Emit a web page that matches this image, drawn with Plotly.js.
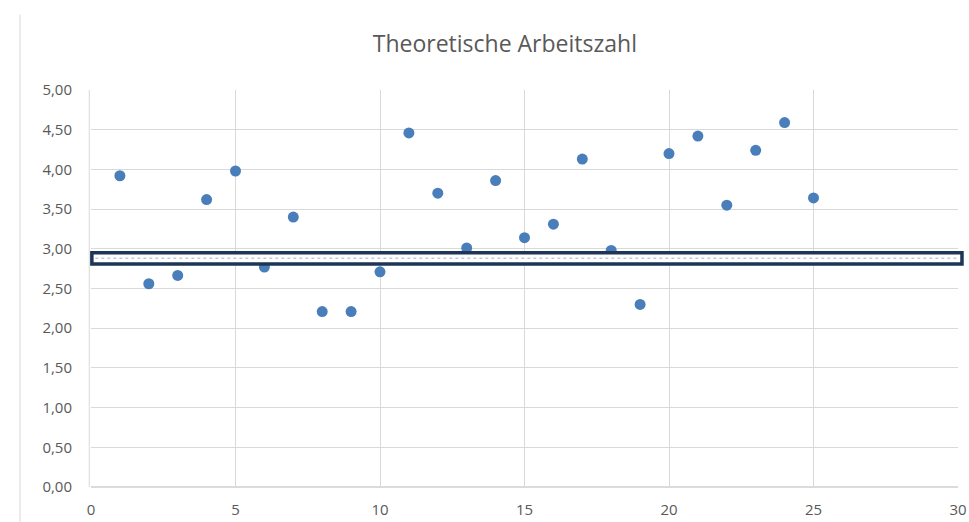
<!DOCTYPE html>
<html>
<head>
<meta charset="utf-8">
<script src="https://cdn.plot.ly/plotly-3.0.1.min.js"></script>
<style>html,body{margin:0;padding:0;background:#fff;}#chart{width:969px;height:522px;}</style>
</head>
<body>
<div id="chart"></div>
<script>
const xValues = [1,2,3,4,5,6,7,8,9,10,11,12,13,14,15,16,17,18,19,20,21,22,23,24,25];
const yValues = [3.92,2.56,2.665,3.62,3.98,2.77,3.40,2.21,2.21,2.71,4.46,3.70,3.01,3.86,3.14,3.31,4.13,2.98,2.30,4.20,4.42,3.55,4.24,4.59,3.64];
const bandLow = 2.81;
const bandHigh = 2.95;
const xTicks = [0,5,10,15,20,25,30];
const yTicks = [0,0.5,1,1.5,2,2.5,3,3.5,4,4.5,5];
const titleText = "Theoretische Arbeitszahl";

const trace = {
  x: xValues, y: yValues, type: 'scatter', mode: 'markers',
  marker: {color: '#4a7ebb', size: 11},
  hoverinfo: 'x+y', cliponaxis: false
};

const layout = {
  width: 969, height: 522,
  margin: {l: 91, r: 11, t: 90, b: 35},
  paper_bgcolor: '#fff', plot_bgcolor: '#fff',
  separators: ',.',
  showlegend: false,
  font: {family: 'Open Sans, sans-serif', color: '#595959'},
  title: {text: titleText, font: {size: 23, color: '#595959', family: 'Open Sans, sans-serif'}, x: 0.521, xanchor: 'center', y: 0.915, yanchor: 'middle'},
  xaxis: {range: [0, 30], tickvals: xTicks, ticktext: xTicks.map(String), showgrid: true, gridcolor: '#d9d9d9', gridwidth: 1,
          zeroline: false, showline: false, ticks: '', ticklabelstandoff: 12, tickfont: {size: 15, color: '#595959'}, fixedrange: true},
  yaxis: {range: [0, 5], tickvals: yTicks, tickformat: '.2f', showgrid: true, gridcolor: '#d9d9d9', gridwidth: 1,
          zeroline: false, showline: false, ticks: '', ticklabelstandoff: 18, tickfont: {size: 15, color: '#595959'}, fixedrange: true},
  shapes: [
    {type: 'line', xref: 'paper', yref: 'paper', x0: -0.002, x1: -0.002, y0: 0, y1: 1, line: {color: '#d9d9d9', width: 1}, layer: 'below'},
    {type: 'line', xref: 'paper', yref: 'paper', x0: 0, x1: 1, y0: 0, y1: 0, line: {color: '#cfcfcf', width: 1.5}, layer: 'below'},
    {type: 'line', xref: 'paper', yref: 'paper', x0: -0.0819, x1: -0.0819, y0: -0.1, y1: 1.19, line: {color: '#d9d9d9', width: 1}},
    {type: 'rect', xref: 'paper', yref: 'y', x0: 0.001, x1: 1.0046, y0: bandLow, y1: bandHigh,
     line: {color: '#1f3556', width: 3.5}, fillcolor: '#ffffff', layer: 'above'},
    {type: 'line', xref: 'paper', yref: 'y', x0: 0.005, x1: 1.0, y0: (bandLow + bandHigh) / 2, y1: (bandLow + bandHigh) / 2,
     line: {color: '#c4cad3', width: 1.5, dash: 'dot'}, layer: 'above'}
  ]
};

Plotly.newPlot('chart', [trace], layout, {displayModeBar: false, staticPlot: true});
</script>
</body>
</html>
